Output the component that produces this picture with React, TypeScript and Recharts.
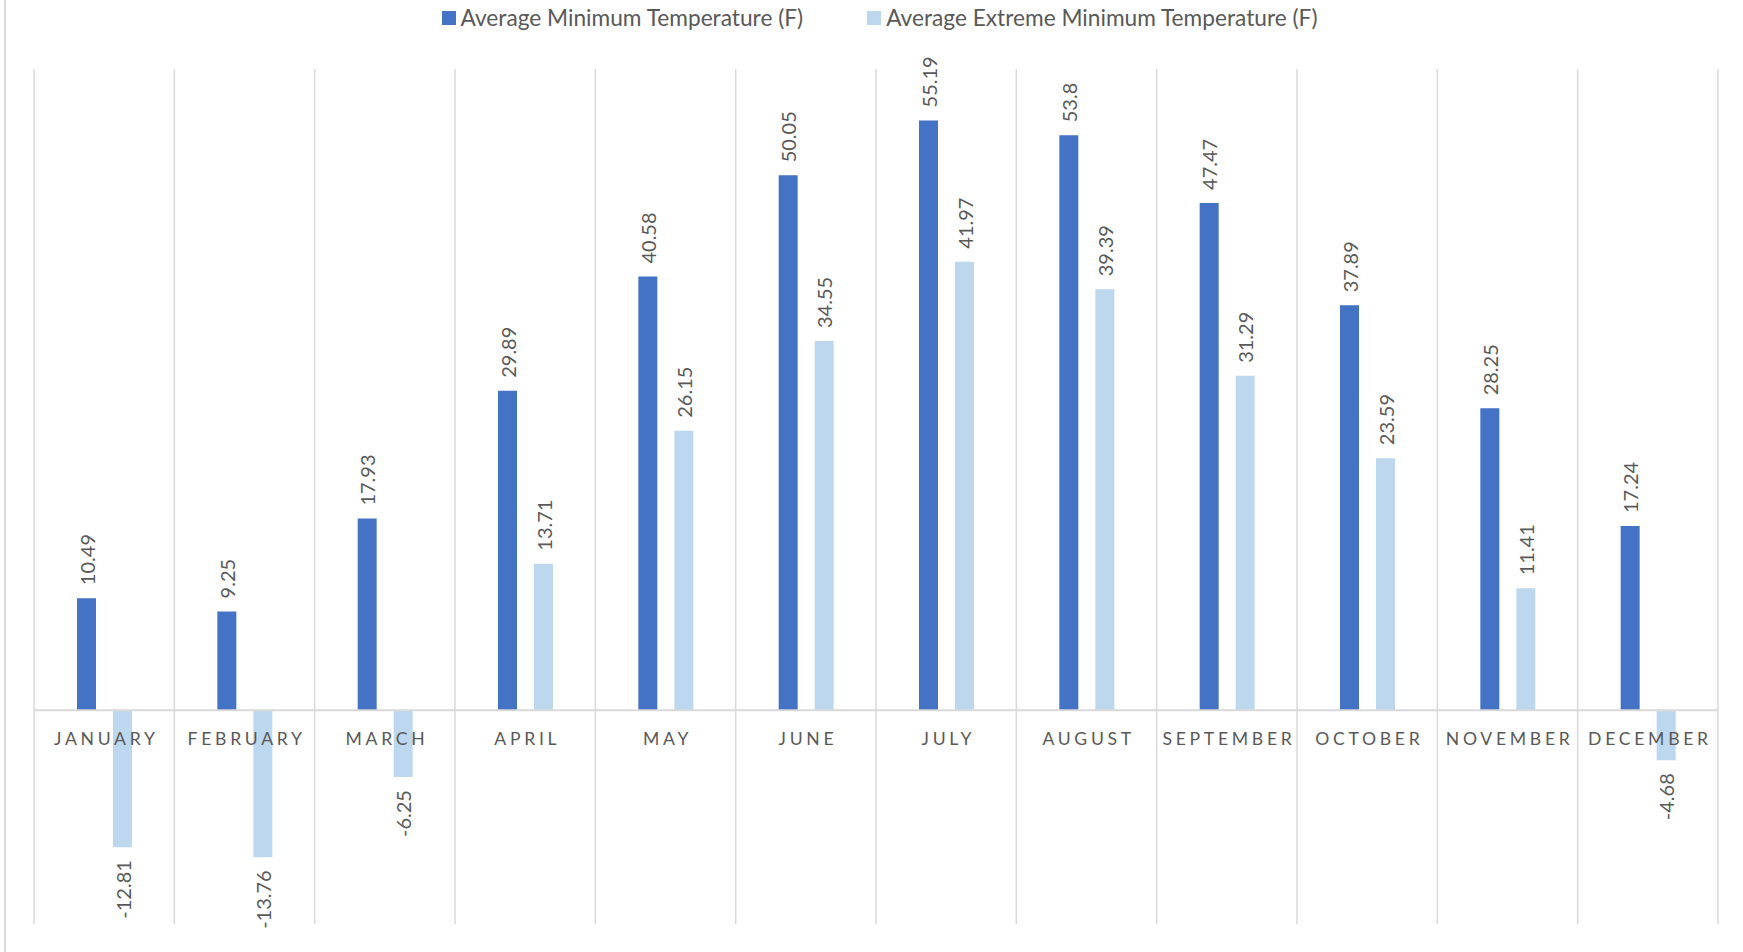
import React from 'react';
import { BarChart, Bar, XAxis, YAxis, CartesianGrid, ReferenceLine, LabelList } from 'recharts';

const months = ['JANUARY', 'FEBRUARY', 'MARCH', 'APRIL', 'MAY', 'JUNE', 'JULY', 'AUGUST', 'SEPTEMBER', 'OCTOBER', 'NOVEMBER', 'DECEMBER'];
const avgMin = [10.49, 9.25, 17.93, 29.89, 40.58, 50.05, 55.19, 53.8, 47.47, 37.89, 28.25, 17.24];
const avgExtremeMin = [-12.81, -13.76, -6.25, 13.71, 26.15, 34.55, 41.97, 39.39, 31.29, 23.59, 11.41, -4.68];
const seriesNames = ['Average Minimum Temperature (F)', 'Average Extreme Minimum Temperature (F)'];
const seriesColors = ['#4472C4', '#BDD7EE'];
const yDomain: [number, number] = [-20, 60];

const data = months.map((m, i) => ({ month: m, min: avgMin[i], ext: avgExtremeMin[i] }));

const FONT = 'Lato, "Open Sans", sans-serif';
const TEXT = '#595959';
const GRID = '#d9d9d9';
const BAR_SIZE = 19;
const BAR_GAP = 17;

const ValueLabel = (props: any) => {
  const vb = props.viewBox || {};
  const x = props.x ?? vb.x;
  const y = props.y ?? vb.y;
  const width = props.width ?? vb.width;
  const height = props.height ?? vb.height;
  const value = Number(props.value);
  const cx = x + width / 2;
  const top = Math.min(y, y + height);
  const bottom = Math.max(y, y + height);
  const neg = value < 0;
  const ty = neg ? bottom + 13 : top - 13;
  return (
    <text
      transform={`translate(${cx},${ty}) rotate(-90)`}
      textAnchor={neg ? 'end' : 'start'}
      dominantBaseline="central"
      fill={TEXT}
      fontSize={20}
      fontFamily={FONT}
    >
      {String(props.value)}
    </text>
  );
};

// Category name drawn under the zero line, centred in the category (right edge of first bar + half the bar gap)
const MonthLabel = (props: any) => {
  const vb = props.viewBox || {};
  const x = props.x ?? vb.x;
  const y = props.y ?? vb.y;
  const width = props.width ?? vb.width;
  const height = props.height ?? vb.height;
  const zeroY = Math.max(y, y + height);
  const cx = x + width + BAR_GAP / 2;
  return (
    <text
      x={cx + 1.8}
      y={zeroY + 28}
      textAnchor="middle"
      dominantBaseline="central"
      fill={TEXT}
      fontSize={17.6}
      letterSpacing={3.7}
      fontFamily={FONT}
    >
      {months[props.index]}
    </text>
  );
};

const gridGen = (props: any) => {
  const off = props.offset;
  const n = months.length;
  const xs: number[] = [];
  for (let i = 0; i <= n; i++) xs.push(off.left + (off.width * i) / n);
  return xs;
};

export default function App() {
  return (
    <div style={{ position: 'fixed', left: 0, top: 0, width: 1743, height: 952, background: '#fff', fontFamily: FONT, overflow: 'hidden' }}>
      <div style={{ position: 'absolute', left: 4, top: 0, width: 0, height: 952, borderLeft: `2px solid ${GRID}` }} />
      <div
        style={{
          position: 'absolute',
          top: 4,
          left: 8,
          width: 1743,
          display: 'flex',
          justifyContent: 'center',
          alignItems: 'center',
          color: TEXT,
          fontSize: 22.7,
          zIndex: 2,
        }}
      >
        {seriesNames.map((name, i) => (
          <div key={name} style={{ display: 'flex', alignItems: 'center', marginLeft: i === 0 ? 0 : 64 }}>
            <span style={{ display: 'inline-block', width: 14, height: 14, background: seriesColors[i], marginRight: 5 }} />
            <span>{name}</span>
          </div>
        ))}
      </div>
      <BarChart
        width={1743}
        height={952}
        data={data}
        margin={{ top: 69, right: 25, bottom: 28, left: 34 }}
        barGap={BAR_GAP}
        style={{ position: 'absolute', left: 0, top: 0 }}
      >
        <CartesianGrid horizontal={false} vertical stroke={GRID} strokeWidth={1.5} verticalCoordinatesGenerator={gridGen} />
        <XAxis dataKey="month" hide />
        <YAxis hide domain={yDomain} />
        <ReferenceLine y={0} stroke={GRID} strokeWidth={2} />
        <Bar dataKey="min" name={seriesNames[0]} fill={seriesColors[0]} barSize={BAR_SIZE} isAnimationActive={false}>
          <LabelList dataKey="min" content={ValueLabel} />
          <LabelList dataKey="month" content={MonthLabel} />
        </Bar>
        <Bar dataKey="ext" name={seriesNames[1]} fill={seriesColors[1]} barSize={BAR_SIZE} isAnimationActive={false}>
          <LabelList dataKey="ext" content={ValueLabel} />
        </Bar>
      </BarChart>
    </div>
  );
}
